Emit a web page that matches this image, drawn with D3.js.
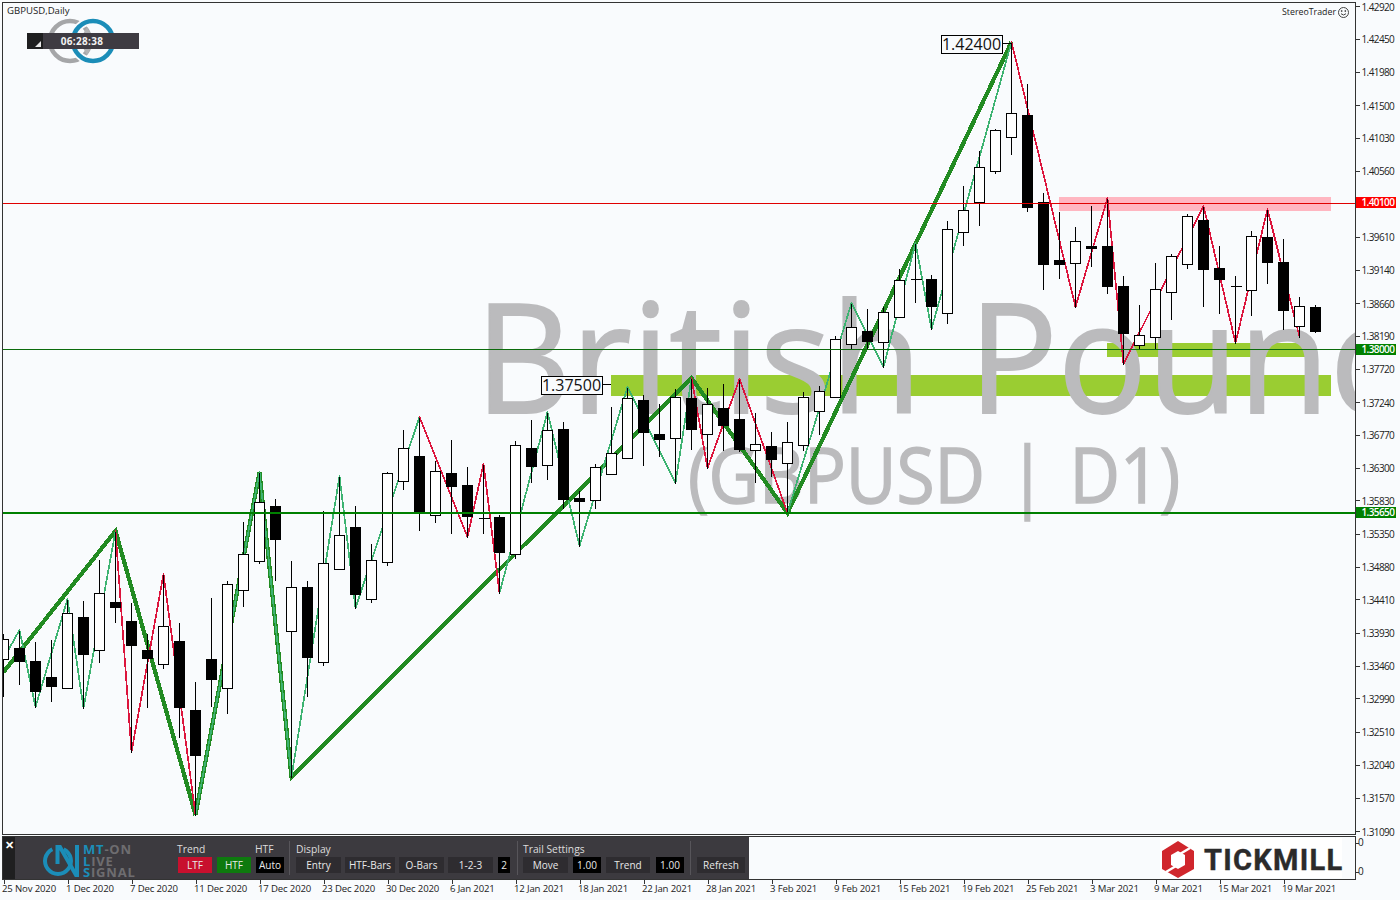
<!DOCTYPE html>
<html><head><meta charset="utf-8">
<script src="https://cdn.jsdelivr.net/npm/d3@7"></script>
<style>
html,body{margin:0;padding:0;background:#f9fbfd;overflow:hidden}
text{font-family:"Open Sans",sans-serif}
</style></head><body><div id="chart"></div>
<script>
const opens=[1.33557,1.33714,1.33528,1.33299,1.33141,1.34159,1.33686,1.34374,1.34101,1.33686,1.33485,1.33815,1.32825,1.33557,1.33141,1.34546,1.34962,1.35750,1.33958,1.34589,1.33514,1.34847,1.35449,1.34417,1.34947,1.36109,1.36467,1.35621,1.36224,1.36052,1.35578,1.35593,1.35062,1.36582,1.36338,1.36855,1.35865,1.35836,1.36209,1.36439,1.37270,1.36783,1.36726,1.37299,1.36783,1.37156,1.36998,1.36553,1.36611,1.36367,1.36625,1.37113,1.37313,1.38073,1.38260,1.38102,1.38461,1.39005,1.39005,1.38518,1.39679,1.40110,1.40554,1.41042,1.41357,1.40110,1.39278,1.39235,1.39479,1.39479,1.38905,1.38059,1.38174,1.38819,1.39221,1.39851,1.39163,1.38905,1.38848,1.39608,1.39249,1.38331,1.38604];
const highs=[1.33929,1.33972,1.33815,1.33843,1.34417,1.34403,1.34990,1.35392,1.34374,1.33929,1.34775,1.34087,1.33241,1.34446,1.34689,1.35535,1.36238,1.35865,1.34976,1.34689,1.35693,1.36181,1.35765,1.35220,1.36252,1.36855,1.37027,1.36410,1.36711,1.36324,1.36353,1.35636,1.36697,1.36998,1.37098,1.36969,1.35980,1.36367,1.37184,1.37457,1.37356,1.37227,1.37442,1.37586,1.37457,1.37514,1.37572,1.37098,1.36826,1.36969,1.37399,1.37485,1.38202,1.38661,1.38590,1.38618,1.39163,1.39522,1.39077,1.39851,1.40353,1.40855,1.41171,1.42404,1.41816,1.40253,1.39980,1.39765,1.40067,1.40167,1.39063,1.38647,1.39249,1.39378,1.39952,1.40052,1.39493,1.39063,1.39708,1.40009,1.39593,1.38762,1.38647];
const lows=[1.33026,1.33198,1.32868,1.32954,1.33141,1.32854,1.33514,1.34087,1.32223,1.32868,1.33428,1.32438,1.31320,1.32883,1.32782,1.34317,1.34933,1.34689,1.31865,1.33026,1.33471,1.34847,1.34288,1.34374,1.34904,1.35994,1.35406,1.35521,1.35363,1.35306,1.35363,1.34503,1.35005,1.36095,1.36138,1.35722,1.35177,1.35722,1.36209,1.36439,1.36338,1.36467,1.36080,1.36568,1.36295,1.36553,1.36539,1.36095,1.36181,1.35650,1.36553,1.36783,1.37313,1.38002,1.38016,1.37744,1.38461,1.38676,1.38288,1.38374,1.39493,1.39780,1.40525,1.40798,1.39980,1.38862,1.39020,1.38604,1.39192,1.38805,1.37787,1.38002,1.38002,1.38432,1.39163,1.38618,1.38518,1.38088,1.38489,1.38948,1.38288,1.38174,1.38245];
const closes=[1.33843,1.33528,1.33098,1.33169,1.34216,1.33628,1.34503,1.34302,1.33757,1.33571,1.34030,1.32868,1.32180,1.33270,1.34632,1.35062,1.35808,1.35277,1.34589,1.33585,1.34933,1.35335,1.34489,1.34976,1.36224,1.36582,1.35679,1.36252,1.36037,1.35607,1.35578,1.35091,1.36625,1.36324,1.36840,1.35851,1.35822,1.36310,1.36510,1.37299,1.36812,1.36711,1.37313,1.36855,1.37213,1.36912,1.36568,1.36640,1.36424,1.36668,1.37313,1.37399,1.38145,1.38317,1.38116,1.38532,1.38991,1.39005,1.38618,1.39722,1.39995,1.40611,1.41142,1.41386,1.40038,1.39221,1.39221,1.39550,1.39450,1.38905,1.38231,1.38202,1.38862,1.39335,1.39909,1.39149,1.39005,1.38905,1.39622,1.39249,1.38561,1.38618,1.38260];

const thinBars=[0,1,2,4,5,7,8,10,12,16,18,21,22,26,29,30,31,34,36,39,42,43,44,46,49,53,55,57,58,63,67,69,70,75,77,79,81];
const thinPrices=[1.33557,1.33972,1.32868,1.34417,1.32854,1.35392,1.32223,1.34775,1.31320,1.36238,1.31865,1.36181,1.34288,1.37027,1.35306,1.36353,1.34503,1.37098,1.35177,1.37457,1.36080,1.37586,1.36295,1.37572,1.35650,1.38661,1.37744,1.39522,1.38288,1.42404,1.38604,1.40167,1.37787,1.40052,1.38088,1.40009,1.38174];
const thinTrend=["u","u","u","u","u","d","d","d","u","u","u","u","u","d","d","d","u","u","u","u","u","d","d","d","u","u","u","u","u","d","d","d","d","d","d","d"];
const thickBars=[0,7,12,16,18,43,49,63];
const thickPrices=[1.33370,1.35392,1.31320,1.36238,1.31865,1.37586,1.35650,1.42404];

const priceTicks=[1.42920,1.42450,1.41980,1.41500,1.41030,1.40560,1.40100,1.39610,1.39140,1.38660,1.38190,1.37720,1.37240,1.36770,1.36300,1.35830,1.35350,1.34880,1.34410,1.33930,1.33460,1.32990,1.32510,1.32040,1.31570,1.31090];
const dateLabels=["25 Nov 2020","1 Dec 2020","7 Dec 2020","11 Dec 2020","17 Dec 2020","23 Dec 2020","30 Dec 2020","6 Jan 2021","12 Jan 2021","18 Jan 2021","22 Jan 2021","28 Jan 2021","3 Feb 2021","9 Feb 2021","15 Feb 2021","19 Feb 2021","25 Feb 2021","3 Mar 2021","9 Mar 2021","15 Mar 2021","19 Mar 2021"];

const levelPrices=[1.40100,1.38000,1.35650];
const levelColors=["#e00000","#0b6b0b","#008000"];
const levelWidths=[1,1,2];
const levelTagColors=["#ff0000","#008000","#008000"];
const zoneStart=[66,69,38];
const zoneEnd=[83,82,83];
const zoneTop=[1.40181,1.38088,1.37629];
const zoneBottom=[1.39980,1.37887,1.37328];
const zoneColors=["#ffb6c1","#9acd32","#9acd32"];
const noteBars=[63,38];
const notePrices=[1.42400,1.37500];

const W=1400,H=900,bg="#f9fbfd";
const svg=d3.select("#chart").append("svg").attr("width",W).attr("height",H).style("display","block");
svg.append("rect").attr("width",W).attr("height",H).attr("fill",bg);
const x=d3.scaleLinear().domain([0,82]).range([3.5,1315.5]);
const y=d3.scaleLinear().domain([1.42920,1.31090]).range([6,831]);
const py=v=>Math.round(y(v))+.5;

const defs=svg.append("defs");
defs.append("clipPath").attr("id","plot").append("rect").attr("x",3).attr("y",3).attr("width",1352).attr("height",831);
const plot=svg.append("g").attr("clip-path","url(#plot)");

// zones
plot.append("g").selectAll("rect").data(zoneStart).join("rect")
 .attr("x",(d)=>x(d)-.5).attr("width",(d,i)=>x(zoneEnd[i])-x(d))
 .attr("y",(d,i)=>y(zoneTop[i])).attr("height",(d,i)=>y(zoneBottom[i])-y(zoneTop[i]))
 .attr("fill",(d,i)=>zoneColors[i]).attr("shape-rendering","crispEdges");

// watermark
plot.append("text").attr("transform","translate(475,413) scale(.972,1)").attr("font-size",153).attr("word-spacing",8).attr("fill","#bbbbbd").attr("stroke","#bbbbbd").attr("stroke-width",2).text("British Pound");
plot.append("text").attr("transform","translate(688,503) scale(.915,1)").attr("font-size",76).attr("word-spacing",5.5).attr("fill","#bbbbbd").attr("stroke","#bbbbbd").attr("stroke-width",1.5).text("(GBPUSD | D1)");

// zigzags
const pts=(b,p)=>b.map((d,i)=>[x(d),y(p[i])]);
const line=d3.line();
plot.append("path").attr("d",line(pts(thickBars,thickPrices))).attr("fill","none").attr("stroke","#228b22").attr("stroke-width",4.2).attr("stroke-linejoin","miter").attr("shape-rendering","crispEdges");
const thinPts=pts(thinBars,thinPrices);
plot.append("g").selectAll("path").data(thinTrend).join("path")
 .attr("d",(d,i)=>line([thinPts[i],thinPts[i+1]]))
 .attr("fill","none").attr("stroke",d=>d==="u"?"#3cb371":"#dc143c").attr("stroke-width",1.7).attr("stroke-linecap","round").attr("shape-rendering","crispEdges");

// candles
const cg=plot.append("g").attr("shape-rendering","crispEdges");
opens.forEach((o,i)=>{
 const c=closes[i],up=c>o;
 const cx=x(i);
 cg.append("line").attr("x1",cx).attr("x2",cx).attr("y1",py(highs[i])).attr("y2",py(lows[i])).attr("stroke","#000");
 const top=py(Math.max(o,c)),bot=py(Math.min(o,c));
 if(bot-top<1){
  cg.append("line").attr("x1",cx-5).attr("x2",cx+6).attr("y1",top).attr("y2",top).attr("stroke","#000");
 } else {
  cg.append("rect").attr("x",cx-5).attr("width",10).attr("y",top).attr("height",bot-top)
   .attr("fill",up?"#fff":"#000").attr("stroke","#000").attr("stroke-width",1);
 }
});

// levels
plot.append("g").selectAll("line").data(levelPrices).join("line")
 .attr("x1",3).attr("x2",1356).attr("y1",(d,i)=>py(d)-(levelWidths[i]>1?.5:0)).attr("y2",(d,i)=>py(d)-(levelWidths[i]>1?.5:0))
 .attr("stroke",(d,i)=>levelColors[i]).attr("stroke-width",(d,i)=>levelWidths[i]).attr("shape-rendering","crispEdges");

// notes
const noteShift=[1,0];
const noteG=svg.append("g");
notePrices.forEach((p,i)=>{
 const rx=x(noteBars[i])-.5, ry=py(p)+noteShift[i];
 noteG.append("line").attr("x1",rx-10).attr("x2",rx).attr("y1",ry).attr("y2",ry).attr("stroke","#000").attr("shape-rendering","crispEdges");
 noteG.append("rect").attr("x",rx-70).attr("y",ry-8.5).attr("width",61).attr("height",18).attr("fill",bg).attr("stroke","#000").attr("shape-rendering","crispEdges");
 noteG.append("text").attr("x",rx-39.5).attr("y",ry+6).attr("text-anchor","middle").attr("font-size",16).attr("fill","#111").text(p.toFixed(5));
});

// frames
const fr=svg.append("g").attr("fill","none").attr("stroke","#333").attr("shape-rendering","crispEdges");
fr.append("rect").attr("x",2.5).attr("y",2.5).attr("width",1353).attr("height",832);
fr.append("rect").attr("x",2.5).attr("y",836.5).attr("width",1353).attr("height",43);

// price axis
const yAxis=d3.axisRight(y).tickValues(priceTicks).tickFormat(d3.format(".5f")).tickSize(4).tickPadding(2);
const ya=svg.append("g").attr("transform","translate(1355.5,0)").call(yAxis);
ya.select(".domain").remove();
ya.selectAll("line").attr("stroke","#333").attr("shape-rendering","crispEdges");
ya.selectAll("text").attr("font-size",10).attr("letter-spacing",-.6).attr("dy","0.4em").attr("fill","#222").style("font-family",'"Open Sans",sans-serif');

// level tags
levelPrices.forEach((p,i)=>{
 const t=Math.floor(y(p));
 svg.append("rect").attr("x",1356).attr("y",t-5).attr("width",40).attr("height",11).attr("fill",levelTagColors[i]).attr("shape-rendering","crispEdges");
 svg.append("text").attr("x",1361.5).attr("y",t+4).attr("font-size",10).attr("letter-spacing",-.6).attr("font-weight",600).attr("fill","#fff").text(p.toFixed(5));
});

// date axis
const xTickIdx=dateLabels.map((d,i)=>i*4);
const xAxis=d3.axisBottom(x).tickValues(xTickIdx).tickFormat((d,i)=>dateLabels[i]).tickSize(4).tickPadding(2);
const xa=svg.append("g").attr("transform","translate(0,879.5)").call(xAxis);
xa.select(".domain").remove();
xa.selectAll("line").attr("stroke","#333").attr("shape-rendering","crispEdges");
xa.selectAll("text").attr("font-size",9.6).attr("letter-spacing",-.15).attr("fill","#222").attr("text-anchor","start").attr("dx",-2).attr("y",6).attr("dy","0.71em").style("font-family",'"Open Sans",sans-serif');

// sub-window axis
svg.selectAll(".sub").data([0,0]).join("text").attr("class","sub").attr("x",1358).attr("y",(d,i)=>i?875:846).attr("font-size",10).attr("fill","#222").text(d=>d);
[843,872].forEach(t=>svg.append("line").attr("x1",1356).attr("x2",1359).attr("y1",t+.5).attr("y2",t+.5).attr("stroke","#333").attr("shape-rendering","crispEdges"));

// corner texts
svg.append("text").attr("x",7).attr("y",14).attr("font-size",9.6).attr("fill","#222").text("GBPUSD,Daily");
svg.append("text").attr("x",1282).attr("y",15).attr("font-size",8.8).attr("fill","#222").text("StereoTrader");
const sm=svg.append("g").attr("transform","translate(1343.5,12.5)").attr("fill","none").attr("stroke","#444");
sm.append("circle").attr("r",5);
sm.append("circle").attr("cx",-1.8).attr("cy",-1.5).attr("r",.5).attr("fill","#444");
sm.append("circle").attr("cx",1.8).attr("cy",-1.5).attr("r",.5).attr("fill","#444");
sm.append("path").attr("d","M-2.5,1.2Q0,3.8 2.5,1.2");

// countdown widget
const cd=svg.append("g");
cd.append("circle").attr("cx",70).attr("cy",41).attr("r",20).attr("fill","none").attr("stroke","#a5a6a8").attr("stroke-width",4.5);
cd.append("path").attr("d","M83,34 L87,27 L91,34Z M83,48 L87,55 L91,48Z").attr("fill","#b3b4b6");
cd.append("circle").attr("cx",93).attr("cy",41).attr("r",20).attr("fill","none").attr("stroke",bg).attr("stroke-width",8);
cd.append("circle").attr("cx",93).attr("cy",41).attr("r",20).attr("fill","none").attr("stroke","#1b8db8").attr("stroke-width",4.5);
cd.append("rect").attr("x",27).attr("y",33).attr("width",112).attr("height",16).attr("fill","#3e3b42");
cd.append("rect").attr("x",27).attr("y",33).attr("width",16).attr("height",16).attr("fill","#1f1f20");
cd.append("path").attr("d","M35,47 L41,47 L41,41Z").attr("fill","#e8e8e8");
cd.append("text").attr("x",82).attr("y",44.5).attr("text-anchor","middle").attr("font-size",10).attr("letter-spacing",.3).attr("font-weight",700).attr("fill","#f2f2f2").text("06:28:38");

// control panel
const panel=svg.append("g").attr("shape-rendering","crispEdges");
panel.append("rect").attr("x",3).attr("y",837).attr("width",746).attr("height",42).attr("fill","#3c3a3f");
panel.append("rect").attr("x",3).attr("y",837).attr("width",12).attr("height",42).attr("fill","#1f1f20");
svg.append("text").attr("x",5).attr("y",849).attr("font-size",11).attr("font-weight",700).attr("fill","#fff").text("✕");
const mkDiv=[289,517,690];
panel.selectAll(".dv").data(mkDiv).join("line").attr("class","dv").attr("x1",d=>d+.5).attr("x2",d=>d+.5).attr("y1",841).attr("y2",875).attr("stroke","#57555a");
const headers=[["Trend",177],["HTF",255],["Display",296],["Trail Settings",523]];
headers.forEach(h=>svg.append("text").attr("x",h[1]).attr("y",853).attr("font-size",10.3).attr("fill","#dcdcdc").text(h[0]));
const buttonLabels=["LTF","HTF","Auto","Entry","HTF-Bars","O-Bars","1-2-3","2","Move","1.00","Trend","1.00","Refresh"];
const buttonX=[178,217,256,296,345,399,448,498,523,573,606,656,697];
const buttonW=[34,34,28,45,50,45,45,12,45,28,44,28,48];
const buttonFill=["#c8102e","#0e7a0e","#000","#2e2c30","#2e2c30","#2e2c30","#2e2c30","#000","#2e2c30","#000","#2e2c30","#000","#2e2c30"];
buttonLabels.forEach((b,i)=>{
 panel.append("rect").attr("x",buttonX[i]).attr("y",857).attr("width",buttonW[i]).attr("height",16).attr("fill",buttonFill[i]);
 svg.append("text").attr("x",buttonX[i]+buttonW[i]/2).attr("y",869).attr("text-anchor","middle").attr("font-size",10).attr("fill","#e8e8e8").text(b);
});

// MT-ON logo
const lg=svg.append("g");
lg.append("path").attr("d",d3.arc()({innerRadius:11,outerRadius:15,startAngle:0.45,endAngle:2*Math.PI-0.45})).attr("transform","translate(58,861)").attr("fill","#1b8db8");
lg.append("path").attr("d","M57.5,864 V847 H60 L76,875 H77 V845").attr("fill","none").attr("stroke","#1b8db8").attr("stroke-width",4);
const ls=[["MT","-ON",854],["L","IVE",866],["S","IGNAL",877]];
ls.forEach(l=>{
 const t=lg.append("text").attr("x",83).attr("y",l[2]).attr("font-size",13).attr("font-weight",700).attr("letter-spacing",.8);
 t.append("tspan").attr("fill","#1b8db8").text(l[0]);
 t.append("tspan").attr("fill","#6e6d70").text(l[1]);
});

// Tickmill logo
const tk=svg.append("g");
tk.append("rect").attr("x",1160).attr("y",838).attr("width",182).attr("height",40).attr("fill","#fff");
tk.append("path").attr("fill-rule","evenodd").attr("fill","#d0262c")
 .attr("d","M1178,841 L1194,851 L1194,869 L1178,878 L1162,869 L1162,851Z M1178,851 L1171,855 L1171,865 L1178,869 L1185,865 L1185,855Z");
tk.append("path").attr("d","M1166,872 L1176,866 M1180,854 L1190,848").attr("stroke","#fff").attr("stroke-width",2.5);
tk.append("text").attr("x",1204).attr("y",870).attr("font-size",29).attr("font-weight",700).attr("letter-spacing",1.3).attr("fill","#2b2b2b").attr("stroke","#2b2b2b").attr("stroke-width",.4).style("font-family","Roboto,sans-serif").text("TICKMILL");
</script></body></html>
